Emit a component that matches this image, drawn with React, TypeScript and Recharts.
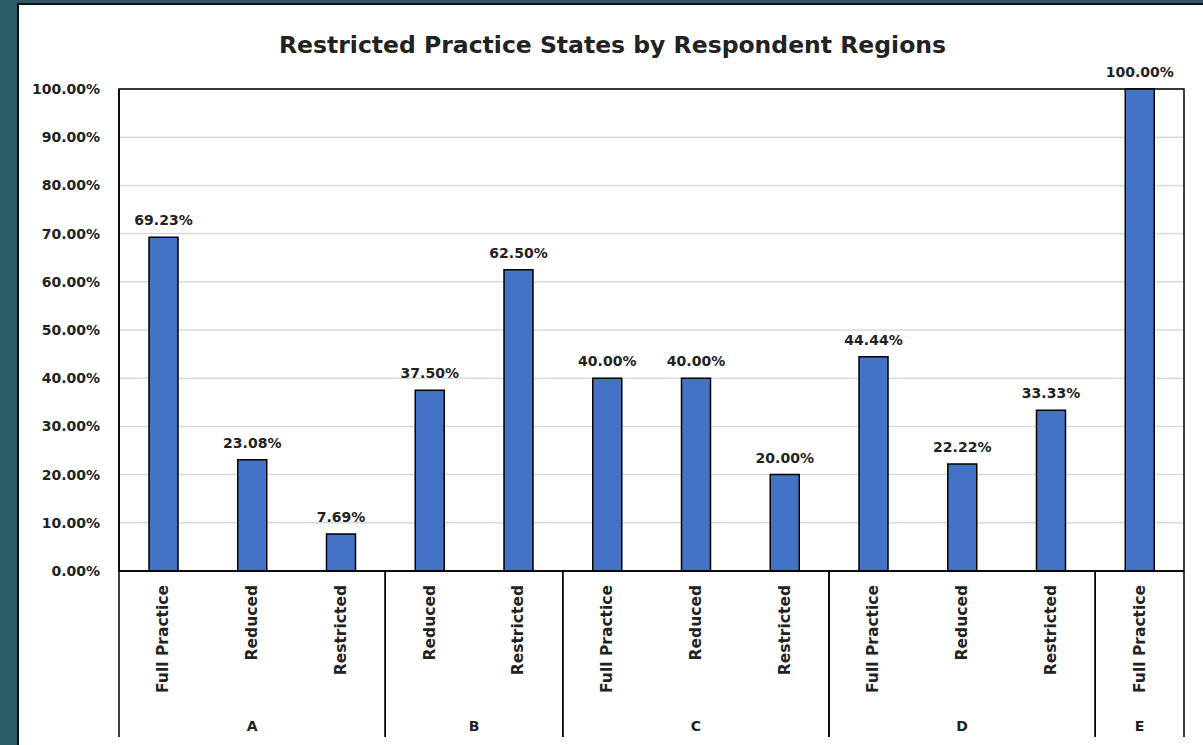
import React from 'react'
import {
  BarChart,
  Bar,
  XAxis,
  YAxis,
  CartesianGrid,
  LabelList,
  ReferenceArea,
} from 'recharts'

const categories = [
  'Full Practice',
  'Reduced',
  'Restricted',
  'Reduced',
  'Restricted',
  'Full Practice',
  'Reduced',
  'Restricted',
  'Full Practice',
  'Reduced',
  'Restricted',
  'Full Practice',
]
const groups = ['A', 'A', 'A', 'B', 'B', 'C', 'C', 'C', 'D', 'D', 'D', 'E']
const shares = [0.6923, 0.2308, 0.0769, 0.375, 0.625, 0.4, 0.4, 0.2, 0.4444, 0.2222, 0.3333, 1]
const yTicks = [0, 0.1, 0.2, 0.3, 0.4, 0.5, 0.6, 0.7, 0.8, 0.9, 1]

const data = categories.map((name, i) => ({ name, group: groups[i], share: shares[i] }))

const FONT = '"DejaVu Sans", sans-serif'
const INK = '#222'
const pct = (v: number) => `${(v * 100).toFixed(2)}%`

// rotated category label + group separators and group letter underneath
const CategoryTick = (props: any) => {
  const { x, y, payload } = props
  const i = payload.index
  const half = payload.offset || 44.4
  const g = groups[i]
  const first = i === 0 || groups[i - 1] !== g
  const last = i === groups.length - 1 || groups[i + 1] !== g
  const size = groups.filter(v => v === g).length
  const lineEnd = y + 166
  return (
    <g>
      <text
        x={x}
        y={y + 14}
        transform={`rotate(-90, ${x}, ${y + 14})`}
        textAnchor="end"
        dominantBaseline="central"
        fill={INK}
        fontSize={15.5}
        fontWeight={700}
        fontFamily={FONT}
      >
        {payload.value}
      </text>
      {first && (
        <line x1={x - half} y1={y} x2={x - half} y2={lineEnd} stroke="#000" strokeWidth={1.5} />
      )}
      {last && (
        <line x1={x + half} y1={y} x2={x + half} y2={lineEnd} stroke="#000" strokeWidth={1.5} />
      )}
      {first && (
        <text
          x={x - half + size * half}
          y={y + 160}
          textAnchor="middle"
          fill={INK}
          fontSize={14}
          fontWeight={700}
          fontFamily={FONT}
        >
          {g}
        </text>
      )}
    </g>
  )
}

export default function App() {
  return (
    <div style={{ position: 'fixed', left: 0, top: 0, width: 1203, height: 745, background: '#2b5a69', overflow: 'hidden' }}>
      <div
        style={{
          position: 'absolute',
          left: 17,
          top: 3,
          width: 1200,
          height: 760,
          background: '#fff',
          border: '2px solid #111',
          boxSizing: 'border-box',
        }}
      />
      <div
        style={{
          position: 'absolute',
          left: 0,
          top: 31,
          width: 1225,
          textAlign: 'center',
          fontFamily: FONT,
          fontWeight: 700,
          fontSize: 23.5,
          color: INK,
        }}
      >
        Restricted Practice States by Respondent Regions
      </div>
      <div style={{ position: 'absolute', left: 0, top: 0 }}>
        <BarChart
          width={1203}
          height={745}
          data={data}
          margin={{ top: 89, right: 19, bottom: 0, left: 19 }}
          barSize={29}
        >
          <CartesianGrid horizontal vertical={false} stroke="#d9d9d9" strokeWidth={1.5} />
          <XAxis
            dataKey="name"
            interval={0}
            height={174}
            tickSize={0}
            tickMargin={0}
            tickLine={false}
            axisLine={{ stroke: '#000', strokeWidth: 1.5 }}
            tick={<CategoryTick />}
          />
          <YAxis
            domain={[0, 1]}
            ticks={yTicks}
            width={100}
            tickFormatter={pct}
            tickLine={false}
            tickSize={0}
            tickMargin={19}
            axisLine={{ stroke: '#000', strokeWidth: 1.5 }}
            tick={{ fill: INK, fontSize: 14, fontWeight: 700, fontFamily: FONT }}
          />
          <ReferenceArea y1={0} y2={1} fill="none" stroke="#000" strokeWidth={1.5} fillOpacity={0} />
          <Bar dataKey="share" fill="#4472c4" stroke="#000" strokeWidth={1.5} isAnimationActive={false}>
            <LabelList
              dataKey="share"
              position="top"
              offset={12}
              formatter={(v: any) => pct(Number(v))}
              fill={INK}
              fontSize={14}
              fontWeight={700}
              fontFamily={FONT}
            />
          </Bar>
        </BarChart>
      </div>
    </div>
  )
}
